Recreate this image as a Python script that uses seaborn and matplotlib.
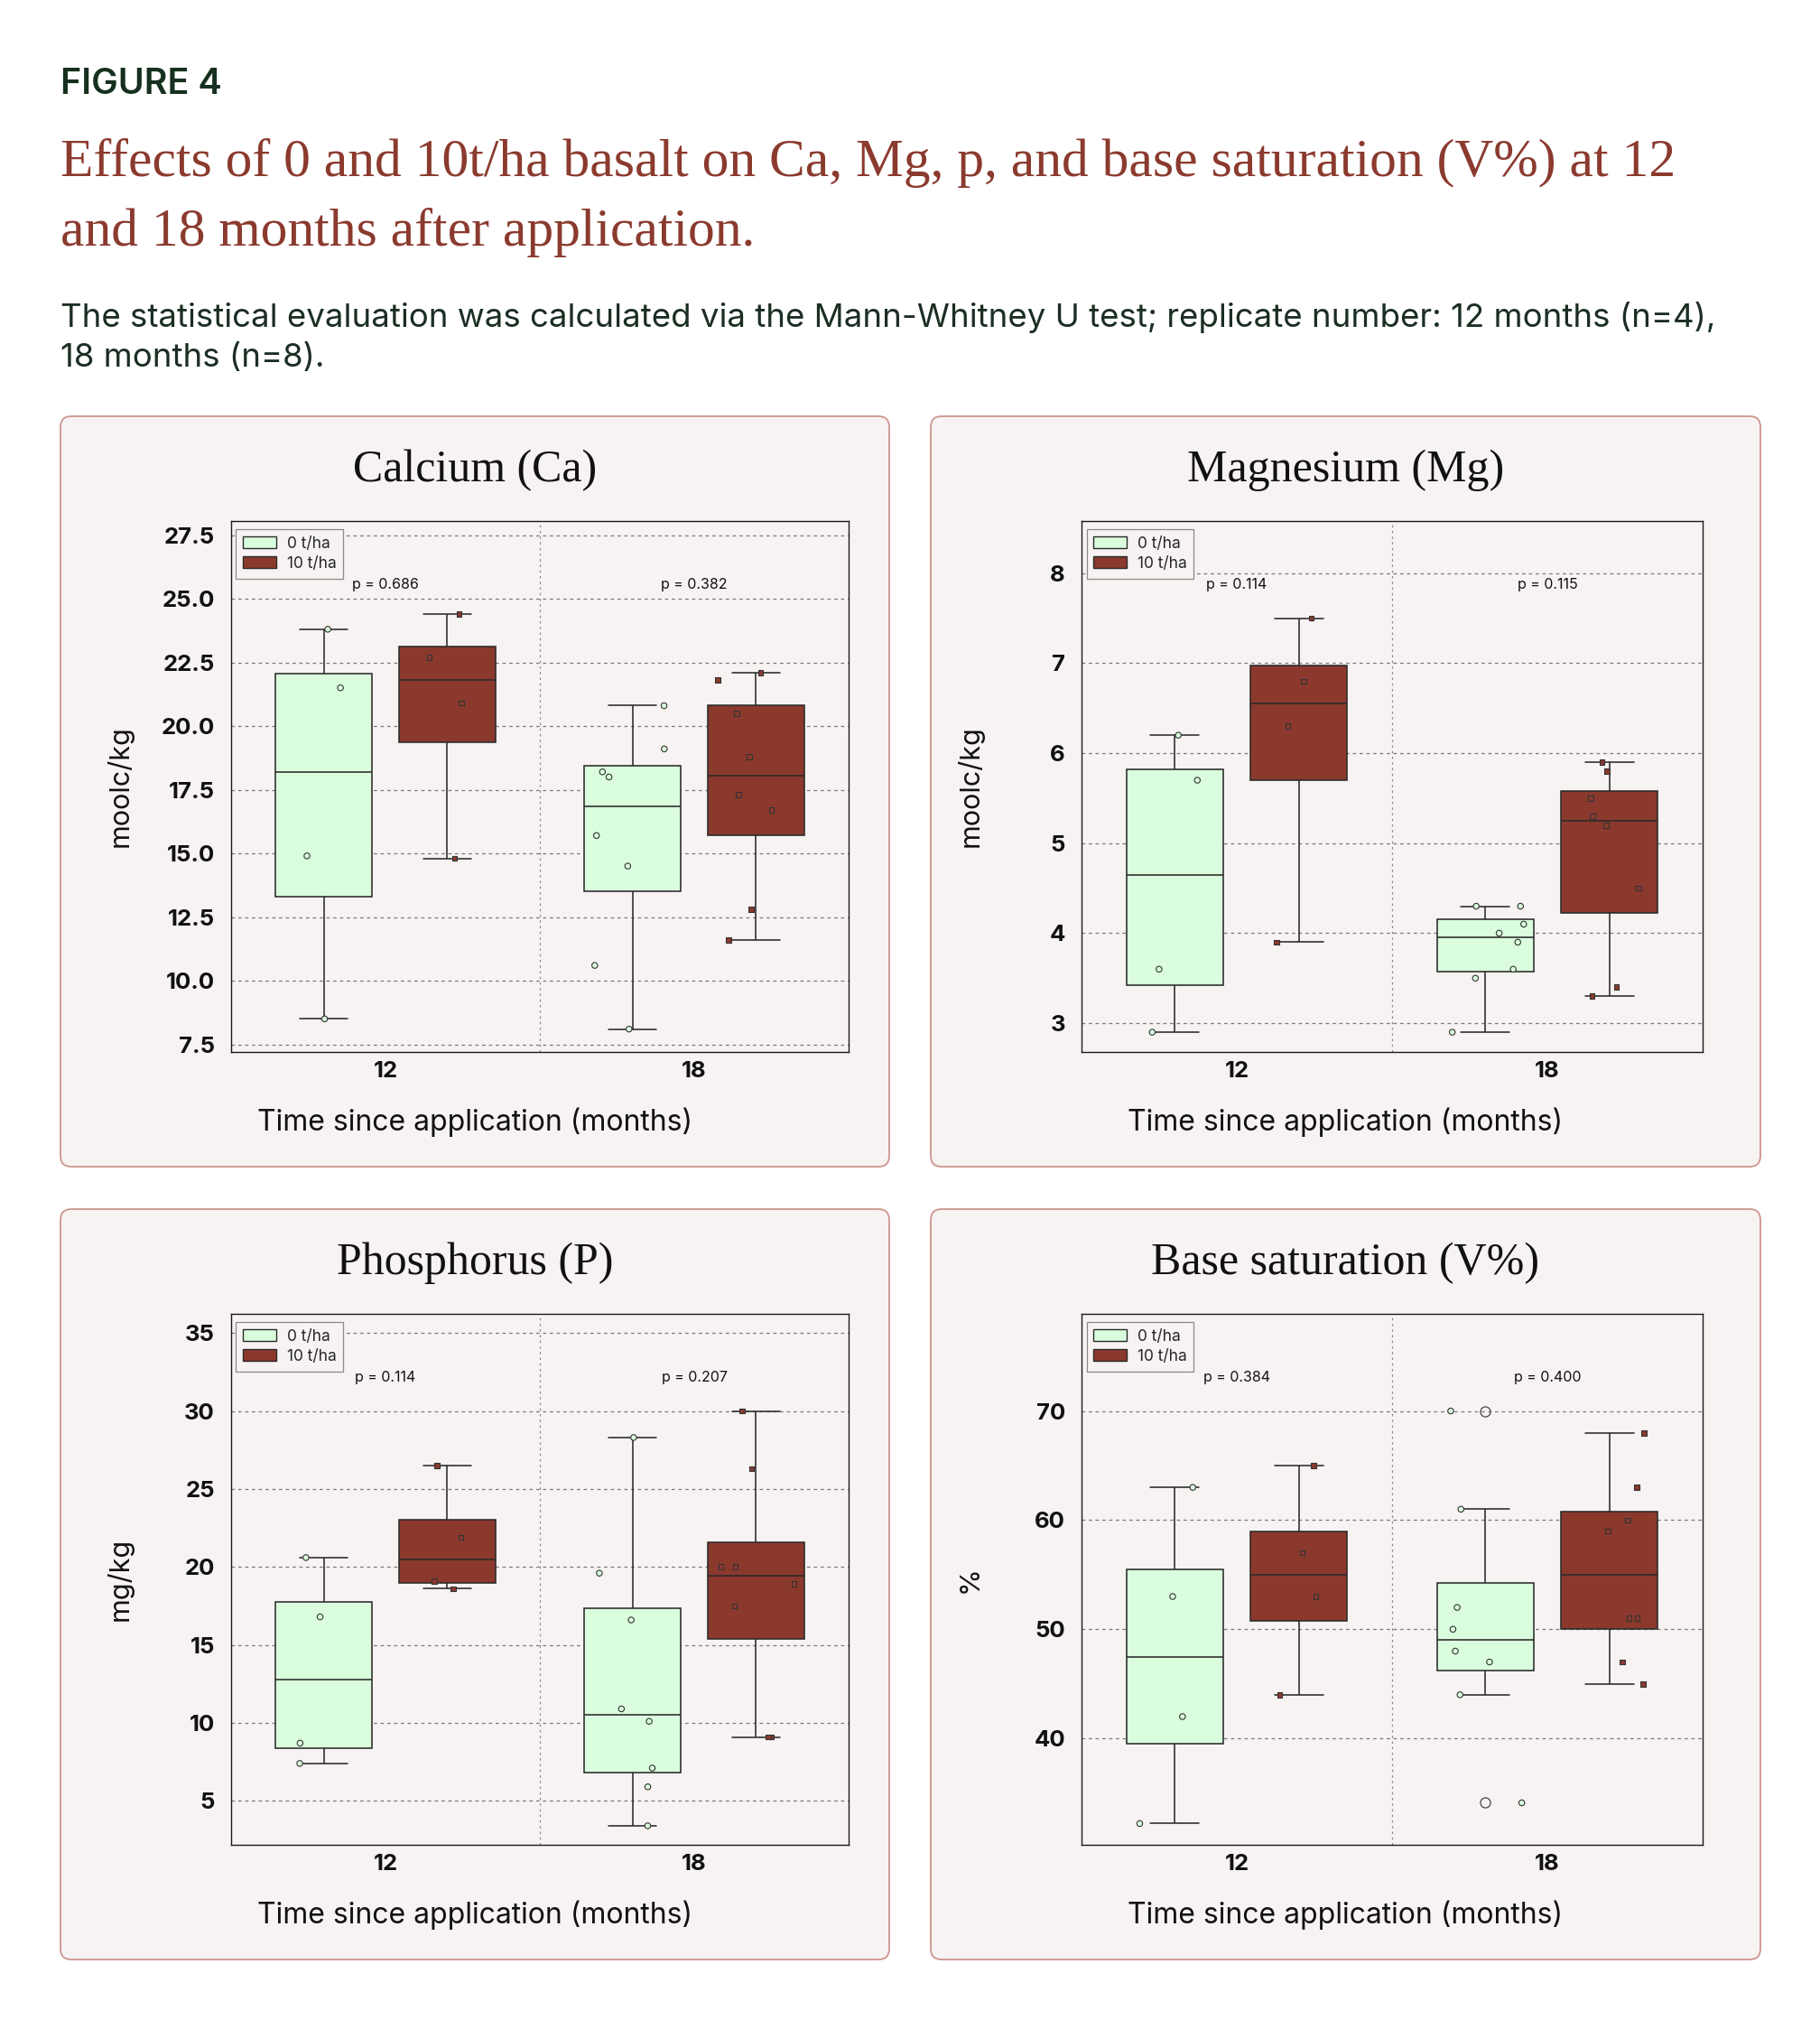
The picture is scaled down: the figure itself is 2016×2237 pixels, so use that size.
import numpy as np
import pandas as pd
import matplotlib
matplotlib.use("Agg")
import matplotlib.pyplot as plt
import seaborn as sns
from matplotlib.patches import FancyBboxPatch, Patch
from matplotlib.transforms import IdentityTransform

# ---------------- data ----------------
months = ["12", "18"]
treatments = ["0 t/ha", "10 t/ha"]

ca_12_0 = [23.8, 21.5, 14.9, 8.5]
ca_12_10 = [24.4, 22.7, 20.9, 14.8]
ca_18_0 = [20.8, 19.1, 18.2, 18.0, 15.7, 14.5, 10.6, 8.1]
ca_18_10 = [21.8, 22.1, 20.5, 18.8, 17.3, 16.7, 12.8, 11.6]

mg_12_0 = [6.2, 5.7, 3.6, 2.9]
mg_12_10 = [7.5, 6.8, 6.3, 3.9]
mg_18_0 = [4.3, 4.3, 4.1, 4.0, 3.9, 3.6, 3.5, 2.9]
mg_18_10 = [5.9, 5.8, 5.5, 5.3, 5.2, 4.5, 3.4, 3.3]

p_12_0 = [20.6, 16.8, 8.7, 7.4]
p_12_10 = [26.5, 21.9, 19.1, 18.6]
p_18_0 = [28.3, 19.6, 16.6, 10.9, 10.1, 7.1, 5.9, 3.4]
p_18_10 = [30.0, 26.3, 20.0, 20.0, 18.9, 17.5, 9.1, 9.1]

v_12_0 = [63, 53, 42, 32.2]
v_12_10 = [65, 57, 53, 44]
v_18_0 = [70, 61, 52, 50, 48, 47, 44, 34.1]
v_18_10 = [68, 63, 60, 59, 51, 51, 47, 45]

panel_titles = ["Calcium (Ca)", "Magnesium (Mg)", "Phosphorus (P)", "Base saturation (V%)"]
y_labels = ["moolc/kg", "moolc/kg", "mg/kg", "%"]
p_texts = [["p = 0.686", "p = 0.382"],
           ["p = 0.114", "p = 0.115"],
           ["p = 0.114", "p = 0.207"],
           ["p = 0.384", "p = 0.400"]]
y_ticks = [[7.5, 10.0, 12.5, 15.0, 17.5, 20.0, 22.5, 25.0, 27.5],
           [3, 4, 5, 6, 7, 8],
           [5, 10, 15, 20, 25, 30, 35],
           [40, 50, 60, 70]]
y_tick_labels = [["7.5", "10.0", "12.5", "15.0", "17.5", "20.0", "22.5", "25.0", "27.5"],
                 ["3", "4", "5", "6", "7", "8"],
                 ["5", "10", "15", "20", "25", "30", "35"],
                 ["40", "50", "60", "70"]]
y_limits = [(7.2, 28.05), (2.68, 8.58), (2.18, 36.23), (30.25, 78.9)]

series = [
    [ca_12_0, ca_12_10, ca_18_0, ca_18_10],
    [mg_12_0, mg_12_10, mg_18_0, mg_18_10],
    [p_12_0, p_12_10, p_18_0, p_18_10],
    [v_12_0, v_12_10, v_18_0, v_18_10],
]

fig_title = "FIGURE 4"
title_lines = ["Effects of 0 and 10t/ha basalt on Ca, Mg, p, and base saturation (V%) at 12",
               "and 18 months after application."]
sub_lines = ["The statistical evaluation was calculated via the Mann-Whitney U test; replicate number: 12 months (n=4),",
             "18 months (n=8)."]
x_label = "Time since application (months)"

# ---------------- style ----------------
GREEN = "#DAFEDD"
RED = "#8B392D"
BG = "#F7F3F2"
EDGE = "#2A2A2A"
palette = {treatments[0]: GREEN, treatments[1]: RED}

sns.set_theme(style="white")
SANS = ["Inter", "DejaVu Sans"]
SERIF = ["Liberation Serif", "DejaVu Serif"]
plt.rcParams["font.family"] = SANS

W, H = 2016, 2237
fig = plt.figure(figsize=(W / 100, H / 100), dpi=100)
fig.patch.set_facecolor("white")

def fx(x):
    return x / W

def fy(y):
    return 1 - y / H

renderer = fig.canvas.get_renderer()

def fit_text(x, y, s, target_w, size0, **kw):
    t = fig.text(fx(x), fy(y), s, fontsize=size0, **kw)
    w = t.get_window_extent(renderer=renderer).width
    t.set_fontsize(size0 * target_w / w)
    return t

# header
fit_text(67, 104, fig_title, 179, 26, family=SANS, weight="semibold", color="#16301F", va="baseline")
t1 = fit_text(67, 195, title_lines[0], 1784, 40, family=SERIF, color="#8B3A2E", va="baseline")
fig.text(fx(67), fy(272), title_lines[1], fontsize=t1.get_fontsize(), family=SERIF,
         color="#8B3A2E", va="baseline")
s1 = fit_text(67, 362, sub_lines[0], 1832, 24, family=SANS, color="#1B2E22", va="baseline")
fig.text(fx(67), fy(406), sub_lines[1], fontsize=s1.get_fontsize(), family=SANS,
         color="#1B2E22", va="baseline")

# panel geometry (pixels, top-left origin)
panels = [(67, 461, 985, 1292), (1031, 461, 1950, 1292),
          (67, 1339, 985, 2170), (1031, 1339, 1950, 2170)]
axes_px = [(256, 577, 940, 1165), (1198, 577, 1886, 1165),
           (256, 1455, 940, 2043), (1198, 1455, 1886, 2043)]

np.random.seed(3)

for i in range(4):
    px0, py0, px1, py1 = panels[i]
    bg = FancyBboxPatch((px0, H - py1), px1 - px0, py1 - py0,
                        boxstyle="round,pad=0,rounding_size=12",
                        transform=IdentityTransform(), facecolor=BG,
                        edgecolor="#CC958E", linewidth=1.3, zorder=-5)
    fig.patches.append(bg)

    ax0, ay0, ax1, ay1 = axes_px[i]
    ax = fig.add_axes([fx(ax0), fy(ay1), (ax1 - ax0) / W, (ay1 - ay0) / H])
    ax.set_facecolor(BG)

    rows = []
    for k, vals in enumerate(series[i]):
        m = months[k // 2]
        t = treatments[k % 2]
        for v in vals:
            rows.append({"month": m, "treatment": t, "value": v})
    df = pd.DataFrame(rows)

    ax.set_axisbelow(True)
    sns.boxplot(data=df, x="month", y="value", hue="treatment", order=months,
                hue_order=treatments, palette=palette, saturation=1,
                width=0.8, gap=0.22, linewidth=1.15, linecolor=EDGE,
                whis=1.5, fliersize=8,
                flierprops=dict(marker="o", markerfacecolor="none",
                                markeredgecolor="#444444", markeredgewidth=0.9),
                legend=False, ax=ax)

    for t, mk, sz in [(treatments[0], "o", 4.6), (treatments[1], "s", 4.0)]:
        sns.stripplot(data=df[df["treatment"] == t], x="month", y="value",
                      hue="treatment", order=months, hue_order=treatments,
                      palette=palette, dodge=True, jitter=0.26, marker=mk,
                      size=sz, linewidth=0.8, edgecolor="#333333",
                      legend=False, ax=ax, zorder=4)

    ax.set_ylim(*y_limits[i])
    ax.set_xlim(-0.5, 1.5)
    ax.set_yticks(y_ticks[i])
    ax.set_yticklabels(y_tick_labels[i])
    ax.set_xticks([0, 1])
    ax.set_xticklabels(months)
    ax.yaxis.grid(True, linestyle=(0, (3, 3)), color="#7A7A7A", linewidth=0.9)
    ax.xaxis.grid(False)
    ax.axvline(0.5, linestyle=(0, (2, 3)), color="#8A8A8A", linewidth=0.9, zorder=0)
    for sp in ax.spines.values():
        sp.set_visible(True)
        sp.set_color("#1A1A1A")
        sp.set_linewidth(1.0)
    ax.tick_params(axis="y", length=5, width=0.9, color="#8A8A8A", pad=8,
                   labelsize=18.5, labelcolor="#111111")
    ax.tick_params(axis="x", length=0, pad=7, labelsize=18.5, labelcolor="#111111")
    for lab in ax.get_yticklabels() + ax.get_xticklabels():
        lab.set_fontweight("bold")
    ax.set_xlabel("")
    ax.set_ylabel("")

    for j in range(2):
        ax.text(j, 0.88, p_texts[i][j], transform=ax.get_xaxis_transform(),
                ha="center", va="center", fontsize=11.5, color="#111111")

    handles = [Patch(facecolor=GREEN, edgecolor=EDGE, linewidth=1.0, label=treatments[0]),
               Patch(facecolor=RED, edgecolor=EDGE, linewidth=1.0, label=treatments[1])]
    leg = ax.legend(handles=handles, loc="upper left", bbox_to_anchor=(0.008, 0.985),
                    fontsize=12.5, frameon=True, fancybox=False, edgecolor="#8A8A8A",
                    facecolor=BG, framealpha=1, handlelength=2.1, handleheight=0.8,
                    borderpad=0.45, labelspacing=0.3, handletextpad=0.7,
                    borderaxespad=0)
    leg.get_frame().set_linewidth(0.9)

    cx = (px0 + px1) / 2
    fig.text(fx(cx), fy(py0 + 60), panel_titles[i], family=SERIF, fontsize=36,
             ha="center", va="center", color="#111111")
    fig.text(fx(ax0 - 123), fy((ay0 + ay1) / 2), y_labels[i], rotation=90,
             fontsize=22, ha="center", va="center", color="#111111")
    fig.text(fx(cx), fy(ay1 + 78), x_label, fontsize=23, ha="center", va="center",
             color="#111111")

fig.savefig("out.png", dpi=100, facecolor="white")
